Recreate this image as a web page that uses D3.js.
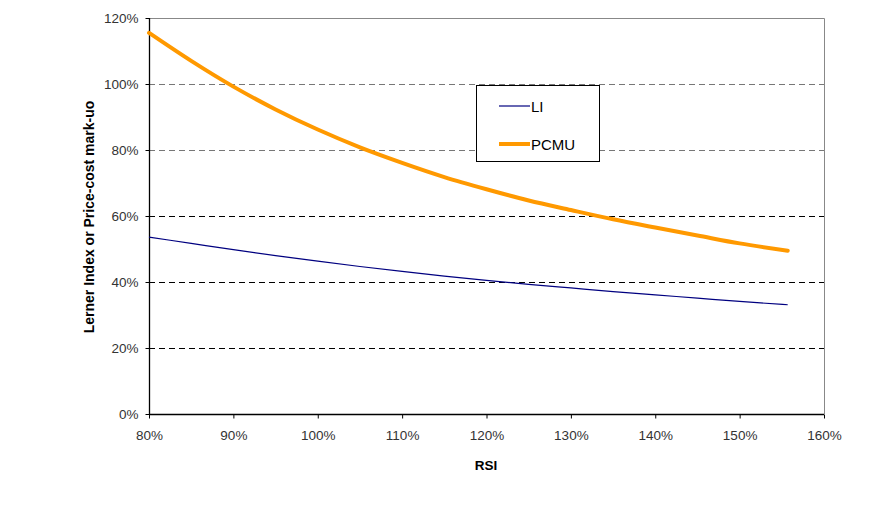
<!DOCTYPE html>
<html>
<head>
<meta charset="utf-8">
<script src="https://cdn.jsdelivr.net/npm/d3@7"></script>
<style>
  body { margin: 0; background: #fff; }
  svg { display: block; font-family: "Liberation Sans", Arial, sans-serif; }
</style>
</head>
<body>
<svg id="chart" width="893" height="513"></svg>
<script>
// RSI (%) sample points
var rsi  = [80, 85, 90, 95, 100, 105, 110, 115, 120, 125, 130, 135, 140, 145, 150, 155.7];
// Lerner index (%)
var li   = [53.6, 51.7, 49.8, 48.0, 46.3, 44.7, 43.2, 41.8, 40.5, 39.3, 38.2, 37.1, 36.1, 35.1, 34.1, 33.1];
// price-cost mark-up (%)
var pcmu = [115.5, 107.0, 99.2, 92.3, 86.2, 80.8, 76.1, 71.8, 68.1, 64.7, 61.8, 59.0, 56.5, 54.1, 51.7, 49.5];

var xTicks = [80, 90, 100, 110, 120, 130, 140, 150, 160];
var yTicks = [0, 20, 40, 60, 80, 100, 120];
var legendNames = ['LI', 'PCMU'];

(function() {
  var svg = d3.select('#chart');
  var pLeft = 149, pRight = 824, pTop = 18, pBottom = 414;

  var x = d3.scaleLinear().domain([80, 160]).range([pLeft, pRight]);
  var y = d3.scaleLinear().domain([0, 120]).range([pBottom, pTop]);

  // gridlines (dashed)
  svg.append('g').selectAll('line')
    .data(yTicks.filter(function(d) { return d > 0 && d < 120; }))
    .enter().append('line')
    .attr('x1', pLeft).attr('x2', pRight)
    .attr('y1', function(d) { return Math.round(y(d)) + 0.5; })
    .attr('y2', function(d) { return Math.round(y(d)) + 0.5; })
    .attr('stroke', function(d) { return d >= 80 ? '#777' : '#000'; })
    .attr('stroke-width', 1)
    .attr('stroke-dasharray', '6,4');

  // top and right border
  svg.append('path')
    .attr('d', 'M' + pLeft + ',' + (pTop + 0.5) + 'H' + (pRight + 0.5) + 'V' + pBottom)
    .attr('fill', 'none')
    .attr('stroke', '#888')
    .attr('stroke-width', 1);

  // axes
  var xAxis = d3.axisBottom(x).tickValues(xTicks).tickSize(4).tickPadding(12)
    .tickFormat(function(d) { return d + '%'; });
  var yAxis = d3.axisLeft(y).tickValues(yTicks).tickSize(4).tickPadding(7)
    .tickFormat(function(d) { return d + '%'; });

  var gx = svg.append('g').attr('transform', 'translate(0,' + (pBottom + 0.5) + ')').call(xAxis);
  var gy = svg.append('g').attr('transform', 'translate(' + (pLeft + 0.5) + ',0)').call(yAxis);

  [gx, gy].forEach(function(g) {
    g.select('.domain').attr('stroke', '#000').attr('stroke-width', 1.3);
    g.selectAll('.tick line').attr('stroke', '#000');
    g.selectAll('.tick text')
      .attr('fill', '#333')
      .style('font-family', '"Liberation Sans", Arial, sans-serif')
      .style('font-size', '13.5px');
  });
  gx.select('.domain').attr('d', 'M' + pLeft + ',0H' + pRight);
  gy.select('.domain').attr('d', 'M0,' + pBottom + 'V' + pTop);

  // axis titles
  svg.append('text')
    .attr('x', 486).attr('y', 470)
    .attr('text-anchor', 'middle')
    .style('font-size', '13.5px').style('font-weight', 'bold')
    .text('RSI');

  svg.append('text')
    .attr('transform', 'translate(94,217) rotate(-90)')
    .attr('text-anchor', 'middle')
    .style('font-size', '14px').style('font-weight', 'bold')
    .text('Lerner Index or Price-cost mark-uo');

  // series
  var line = d3.line()
    .x(function(d) { return x(d[0]); })
    .y(function(d) { return y(d[1]); })
    .curve(d3.curveMonotoneX);

  svg.append('path')
    .datum(d3.zip(rsi, li))
    .attr('d', line)
    .attr('fill', 'none')
    .attr('stroke', '#000080')
    .attr('stroke-width', 1.2);

  svg.append('path')
    .datum(d3.zip(rsi, pcmu))
    .attr('d', line)
    .attr('fill', 'none')
    .attr('stroke', '#FF9900')
    .attr('stroke-width', 4)
    .attr('stroke-linecap', 'round');

  // legend
  var lg = svg.append('g').attr('transform', 'translate(476,85)');
  lg.append('rect')
    .attr('x', 0.5).attr('y', 0.5).attr('width', 123).attr('height', 76)
    .attr('fill', '#fff').attr('stroke', '#000').attr('stroke-width', 1);

  var legendStyle = [
    { color: '#000080', width: 1.2 },
    { color: '#FF9900', width: 4 }
  ];
  legendNames.forEach(function(name, i) {
    var ly = 21 + i * 38;
    lg.append('line')
      .attr('x1', 23).attr('x2', 54)
      .attr('y1', ly).attr('y2', ly)
      .attr('stroke', legendStyle[i].color)
      .attr('stroke-width', legendStyle[i].width);
    lg.append('text')
      .attr('x', 55).attr('y', ly + 5.5)
      .style('font-size', '15px')
      .attr('fill', '#000')
      .text(name);
  });
})();
</script>
</body>
</html>
